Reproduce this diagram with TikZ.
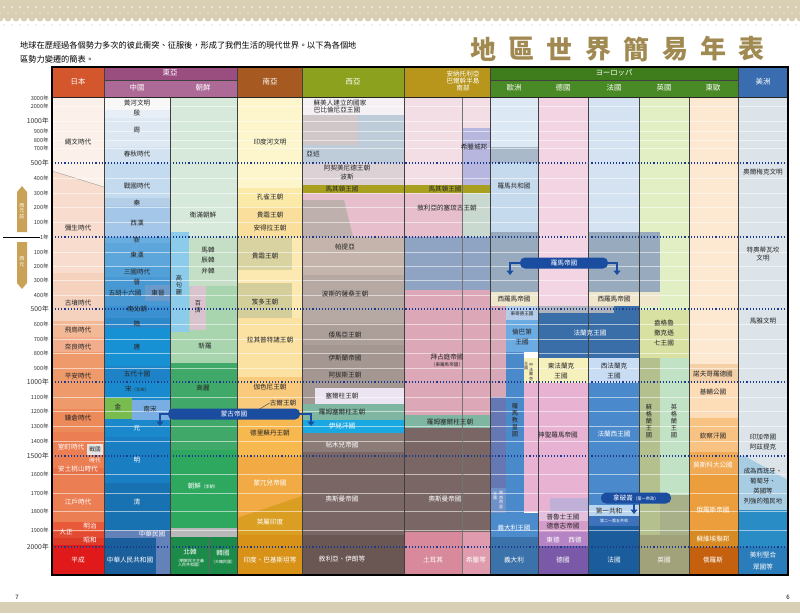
\documentclass[tikz,border=0pt]{standalone}
\usepackage{fontspec}
\setmainfont{Noto Sans CJK TC}
\usetikzlibrary{arrows.meta}

\definecolor{band}{HTML}{D9CFB4}
\definecolor{titlegold}{HTML}{A08A52}
\definecolor{arrgold}{HTML}{C9A257}
\definecolor{dotblue}{HTML}{1A3A90}
\definecolor{banblue}{HTML}{1A4CA0}
\definecolor{hjp}{HTML}{D4562C}
\definecolor{hea}{HTML}{9A4E80}
\definecolor{hea2}{HTML}{AE6A96}
\definecolor{hsa}{HTML}{A65A22}
\definecolor{hwa}{HTML}{8CA21E}
\definecolor{han}{HTML}{B8961C}
\definecolor{heu}{HTML}{3E7C1C}
\definecolor{heu2}{HTML}{4A8A26}
\definecolor{ham}{HTML}{3A6CB0}
% japan
\definecolor{jp0}{HTML}{FCF1EA}\definecolor{jp1}{HTML}{F8DDCE}\definecolor{jp2}{HTML}{F5D2BE}
\definecolor{jp3}{HTML}{F3B996}\definecolor{jp4}{HTML}{F2AE8C}\definecolor{jp5}{HTML}{EF9A6A}
\definecolor{jp6}{HTML}{EC8A5A}\definecolor{jp7}{HTML}{EB7E52}\definecolor{jp8}{HTML}{E87048}
\definecolor{jp9}{HTML}{E85A3A}\definecolor{jp10}{HTML}{E24A32}\definecolor{jp11}{HTML}{DE3A28}
\definecolor{jp12}{HTML}{E01A1A}
% china
\definecolor{cn0}{HTML}{F8F8F8}\definecolor{cn1}{HTML}{E8EEF6}\definecolor{cn2}{HTML}{DDE8F3}
\definecolor{cn3}{HTML}{D3E2F0}\definecolor{cn4}{HTML}{C4DAEE}\definecolor{cn5}{HTML}{B4CEE8}
\definecolor{cn6}{HTML}{A4C6E8}\definecolor{cn7}{HTML}{6AAEE0}\definecolor{cn8}{HTML}{5CA6DC}
\definecolor{cn9}{HTML}{52A0D8}\definecolor{cn10}{HTML}{4898D4}\definecolor{cn11}{HTML}{3A90D0}
\definecolor{cn12}{HTML}{2C88C8}\definecolor{cn13}{HTML}{1890D4}\definecolor{cn14}{HTML}{1E82C6}
\definecolor{cn15}{HTML}{1A8ACE}\definecolor{cn16}{HTML}{1C88CC}\definecolor{cn17}{HTML}{1A7EC2}
\definecolor{cn18}{HTML}{1872B2}\definecolor{cn19}{HTML}{6482BA}\definecolor{cn20}{HTML}{1A5E9C}
\definecolor{cnjin}{HTML}{78BC50}\definecolor{cnss}{HTML}{78AEE4}\definecolor{cndj}{HTML}{6A9ACA}
% korea
\definecolor{kr0}{HTML}{D6E9DA}\definecolor{kr1}{HTML}{C4DFC6}\definecolor{kr2}{HTML}{A8D4AE}
\definecolor{kr3}{HTML}{40A868}\definecolor{kr4}{HTML}{2EA85E}\definecolor{kr5}{HTML}{B8B8B8}
\definecolor{kr6}{HTML}{1C8A48}\definecolor{krgo}{HTML}{8CCBEA}\definecolor{krbj}{HTML}{D9C3CE}
% south asia
\definecolor{in0}{HTML}{FDF6CC}\definecolor{in1}{HTML}{FBE9A8}\definecolor{in2}{HTML}{F9DE9C}
\definecolor{in3}{HTML}{FCE9B2}\definecolor{in4}{HTML}{D8D3A0}\definecolor{in5}{HTML}{D3CE9A}
\definecolor{in6}{HTML}{FCE2A2}\definecolor{in7}{HTML}{F9CA7C}\definecolor{in8}{HTML}{F7B850}
\definecolor{in9}{HTML}{F1AA44}\definecolor{in10}{HTML}{DA9E22}\definecolor{in11}{HTML}{D89218}
% west asia, anatolia
\definecolor{wa0}{HTML}{F4F0F4}\definecolor{wa1}{HTML}{BDCCD8}\definecolor{wa2}{HTML}{D0C8C8}
\definecolor{wa3}{HTML}{DCD2D6}\definecolor{wamac}{HTML}{A8A01E}\definecolor{wa4}{HTML}{E6BECC}
\definecolor{wa5}{HTML}{BEB0AC}\definecolor{wa6}{HTML}{C4B4AC}\definecolor{wa7}{HTML}{B6A8A2}
\definecolor{wa8}{HTML}{AC9E98}\definecolor{wa9}{HTML}{A49690}\definecolor{waseljuk}{HTML}{ECE4F0}
\definecolor{warum}{HTML}{7EB6A2}\definecolor{wailk}{HTML}{1AA8E2}\definecolor{wa10}{HTML}{8C7C78}
\definecolor{wa11}{HTML}{7A6664}\definecolor{wa12}{HTML}{6A5652}
\definecolor{an0}{HTML}{F2DEE4}\definecolor{an1}{HTML}{B6B6DE}\definecolor{an3}{HTML}{C9D9D0}
\definecolor{an4}{HTML}{8EA4C2}\definecolor{an5}{HTML}{DCA8B8}\definecolor{an8}{HTML}{D88A9C}
\definecolor{an9}{HTML}{E09CAE}
% europe
\definecolor{eu0}{HTML}{DCE8F4}\definecolor{eu1}{HTML}{A9B9C9}\definecolor{eu2}{HTML}{C6DAEE}
\definecolor{de0}{HTML}{F2D4E2}\definecolor{fr0}{HTML}{D4E2F2}\definecolor{gb0}{HTML}{E2EEC4}
\definecolor{ee0}{HTML}{FDE8D2}\definecolor{am0}{HTML}{DCE4EA}
\definecolor{rome}{HTML}{98AABE}\definecolor{wrome}{HTML}{F0E6CC}\definecolor{byz}{HTML}{D8A8B8}
\definecolor{ostg}{HTML}{B4CCE8}\definecolor{lomb}{HTML}{6CAAE2}\definecolor{frgray}{HTML}{B0B4BC}
\definecolor{frank}{HTML}{3A6EA8}\definecolor{papal}{HTML}{4A8ACA}\definecolor{efrank}{HTML}{F6F0BC}
\definecolor{wfrank}{HTML}{C8DCF4}\definecolor{hre}{HTML}{E8B2D2}\definecolor{hregray}{HTML}{C0B0D8}
\definecolor{frking}{HTML}{4A8ACC}\definecolor{eustrip}{HTML}{6678B4}\definecolor{sicily}{HTML}{7090C8}
\definecolor{itking}{HTML}{4C8CCC}\definecolor{italy}{HTML}{3C72AA}\definecolor{prus}{HTML}{E2C0DE}
\definecolor{reich}{HTML}{D49CC8}\definecolor{ewde}{HTML}{B484C4}\definecolor{germany}{HTML}{7A5AA8}
\definecolor{rep1}{HTML}{B8D4EE}\definecolor{rep2}{HTML}{3E72BC}\definecolor{france}{HTML}{1A5C9C}
\definecolor{gb1}{HTML}{D8E0A2}\definecolor{gb2}{HTML}{B4C08E}\definecolor{gb3}{HTML}{C2E2C6}
\definecolor{gb4}{HTML}{A8B08A}\definecolor{gb5}{HTML}{A2A27A}
\definecolor{ee1}{HTML}{F4D0A8}\definecolor{ee2}{HTML}{FDDDB8}\definecolor{ee3}{HTML}{F8C282}
\definecolor{ee4}{HTML}{F0AA56}\definecolor{ee5}{HTML}{EC9E3C}\definecolor{ee6}{HTML}{D88A22}
\definecolor{ee7}{HTML}{C4600E}
\definecolor{am1}{HTML}{A8CCE2}\definecolor{am2}{HTML}{2A8CC4}\definecolor{am3}{HTML}{2A7CBA}

\tikzset{
  lbl/.style={font=\fontsize{6.6}{7}\selectfont, text=black!85, inner sep=0pt},
  wlbl/.style={lbl, text=white},
  small/.style={lbl, font=\fontsize{4.6}{5}\selectfont},
  vtxt/.style={lbl, align=center, font=\fontsize{6.2}{6.9}\selectfont},
  tiny/.style={lbl, align=center, font=\fontsize{4}{4.4}\selectfont},
  yr/.style={font=\fontsize{5.6}{6}\selectfont, text=black!80, anchor=east, inner sep=0pt},
  bigyr/.style={yr, font=\fontsize{6.8}{7}\selectfont},
  hdr/.style={font=\fontsize{7.4}{8}\selectfont, text=white, inner sep=0pt, align=center},
  gridline/.style={white, opacity=0.55, line width=0.7pt},
  dotline/.style={dotblue, dotted, line width=1.1pt},
  divider/.style={black!75, line width=0.6pt},
  banner/.style={fill=banblue, text=white, rounded corners=5pt, inner sep=0pt,
    minimum height=11pt, font=\fontsize{6.6}{7}\selectfont},
  banarr/.style={banblue, line width=2.2pt, -{Triangle[width=7pt,length=4.5pt]}},
  titlechar/.style={font=\fontsize{26}{26}\selectfont\bfseries, text=titlegold, inner sep=0pt}
}

\begin{document}
\begin{tikzpicture}[x=1pt, y=-1pt]
  \useasboundingbox (0,0) rectangle (800,613);
  % top and bottom bands
  \fill[band] (0,0) rectangle (800,18);
  \foreach \i in {0,...,100} \fill[band] (\i*8,18) circle (3.5pt);
  \foreach \i in {0,...,100} {
    \fill[white, opacity=0.7] (\i*8+4,7) circle (1pt);
    \fill[white, opacity=0.5] (\i*8,13) circle (0.8pt);
    \fill[band!70] (\i*8+4,25) circle (0.9pt);
  }
  \fill[band] (0,602) rectangle (800,613);
  \node[font=\fontsize{6}{6}\selectfont, inner sep=0pt] (pg7) at (17,597) {7};
  \node[font=\fontsize{6}{6}\selectfont, inner sep=0pt] (pg6) at (788,597) {6};

  % intro and title
  \node[anchor=west, inner sep=0pt, font=\fontsize{8.2}{9}\selectfont] (intro1) at (20,45)
    {地球在歷經過各個勢力多次的彼此衝突、征服後，形成了我們生活的現代世界。以下為各個地};
  \node[anchor=west, inner sep=0pt, font=\fontsize{8.2}{9}\selectfont] (intro2) at (20,59)
    {區勢力變遷的簡表。};
  \foreach \c [count=\i] in {地,區,世,界,簡,易,年,表}
    \node[titlechar] (title\i) at (483+\i*38.4-38.4,49) {\c};

  % japan
  \fill[jp0] (52,97) rectangle (104,273);
  \fill[jp1] (52,171) -- (104,187) -- (104,273) -- (52,273) -- cycle;
  \draw[black!40] (52,171) -- (104,187);
  \fill[jp2] (52,273) rectangle (104,321);
  \fill[jp3] (52,321) rectangle (104,337);
  \fill[jp4] (52,337) rectangle (104,352);
  \fill[jp5] (52,352) rectangle (104,409);
  \fill[jp6] (52,409) rectangle (104,432);
  \fill[jp7] (52,432) rectangle (104,468);
  \fill[jp8] (52,468) rectangle (104,474);
  \fill[jp7] (52,474) rectangle (104,522);
  \fill[jp9] (52,522) rectangle (104,532);
  \fill[jp10] (52,532) rectangle (104,538);
  \fill[jp11] (52,538) rectangle (104,545);
  \fill[jp12] (52,545) rectangle (104,575);
  \fill[white!90!black] (87,444) rectangle (103,455);

  % china
  \fill[cn0] (104,97) rectangle (170,110);
  \fill[cn1] (104,110) rectangle (170,118);
  \fill[cn2] (104,118) rectangle (170,147);
  \fill[cn3] (104,147) rectangle (170,163);
  \fill[cn4] (104,163) rectangle (170,198);
  \fill[cn5] (104,198) rectangle (170,206);
  \fill[cn6] (104,206) rectangle (170,237);
  \fill[cn7] (104,237) rectangle (170,243);
  \fill[cn8] (104,243) rectangle (170,266);
  \fill[cn9] (104,266) rectangle (170,277);
  \fill[cn10] (104,277) rectangle (170,306);
  \fill[cndj] (145,285) rectangle (170,301);
  \fill[cn11] (104,306) rectangle (170,318);
  \fill[cn12] (104,318) rectangle (170,328);
  \fill[cn13] (104,328) rectangle (170,366);
  \fill[cn14] (104,366) rectangle (170,381);
  \fill[cn15] (104,381) rectangle (170,398);
  \fill[cn16] (104,398) rectangle (170,437);
  \fill[cnjin] (104,398) rectangle (132,419);
  \fill[cnss] (132,400) rectangle (170,420);
  \fill[cn17] (104,437) rectangle (170,483);
  \fill[cn18] (104,483) rectangle (170,530);
  \fill[cn19] (104,530) rectangle (170,538);
  \fill[cn19] (156,538) rectangle (170,575);
  \fill[cn20] (104,538) rectangle (156,575);

  % korea
  \fill[kr0] (170,97) rectangle (237,237);
  \fill[kr1] (189,237) rectangle (237,286);
  \fill[kr2] (189,286) rectangle (237,363);
  \fill[kr2] (170,332) rectangle (189,363);
  \fill[krgo] (170,232) rectangle (189,332);
  \fill[krbj] (190,286) rectangle (206,330);
  \fill[kr3] (170,363) rectangle (237,450);
  \fill[kr4] (170,450) rectangle (237,528);
  \fill[kr5] (170,528) rectangle (237,537);
  \fill[kr6] (170,537) rectangle (237,575);

  % south asia
  \fill[in0] (237,97) rectangle (302,188);
  \fill[in1] (237,188) rectangle (302,207);
  \fill[in2] (237,207) rectangle (302,238);
  \fill[in3] (237,238) rectangle (302,318);
  \fill[in4] (237,238) rectangle (292,270);
  \fill[in5] (237,283) rectangle (292,318);
  \fill[in6] (237,318) rectangle (302,377);
  \fill[in7] (237,377) rectangle (302,410);
  \fill[in8] (237,410) rectangle (302,456);
  \fill[in9] (237,456) rectangle (302,535);
  \fill[in10] (237,518) -- (302,496) -- (302,535) -- (237,535) -- cycle;
  \fill[in11] (237,535) rectangle (302,575);

  % west asia
  \fill[wa0] (302,97) rectangle (404,115);
  \fill[wa1] (302,115) rectangle (404,163);
  \fill[wa2] (302,115) rectangle (358,145);
  \fill[wa3] (302,163) rectangle (404,186);
  \fill[wa4] (302,193) rectangle (404,237);
  \fill[wa5] (302,200) -- (344,200) -- (353,237) -- (302,237) -- cycle;
  \fill[wa6] (302,237) rectangle (404,275);
  \fill[wa7] (302,275) rectangle (404,323);
  \fill[wa8] (302,323) rectangle (404,345);
  \fill[wa9] (302,345) rectangle (404,404);
  \fill[waseljuk] (315,388) rectangle (404,404);
  \fill[warum] (302,404) rectangle (404,420);
  \fill[wailk] (302,420) rectangle (404,433);
  \fill[wa10] (302,433) rectangle (404,452);
  \fill[wa11] (302,452) rectangle (404,535);
  \fill[wa12] (302,535) rectangle (404,575);

  % anatolia
  \fill[an0] (404,97) rectangle (490,186);
  \fill[an1] (462,128) rectangle (490,186);
  \fill[wa4] (404,193) rectangle (462,237);
  \fill[an3] (462,193) rectangle (490,237);
  \fill[an4] (404,237) rectangle (490,290);
  \fill[an5] (404,290) rectangle (490,415);
  \fill[warum] (404,415) rectangle (490,428);
  \fill[wa11] (404,428) rectangle (490,532);
  \fill[an8] (404,532) rectangle (462,575);
  \fill[an9] (462,532) rectangle (490,575);
  \fill[wamac] (302,185) rectangle (490,193);

  % europe
  \fill[eu0] (490,97) rectangle (538,147);
  \fill[eu1] (490,147) rectangle (538,163);
  \fill[eu2] (490,163) rectangle (538,232);
  \fill[de0] (538,97) rectangle (588,313);
  \fill[fr0] (588,97) rectangle (639,232);
  \fill[gb0] (639,97) rectangle (689,310);
  \fill[ee0] (689,97) rectangle (738,364);
  \fill[am0] (738,97) rectangle (788,456);
  \fill[rome] (490,232) rectangle (538,292);
  \fill[rome] (588,232) rectangle (660,292);
  \fill[wrome] (490,292) rectangle (538,306);
  \fill[wrome] (588,292) rectangle (660,306);
  \fill[byz] (490,306) rectangle (506,397);
  \fill[ostg] (506,306) rectangle (538,320);
  \fill[lomb] (506,320) rectangle (538,352);
  \fill[frank] (538,306) rectangle (639,358);
  \fill[frgray] (538,306) rectangle (614,313);
  \fill[papal] (506,352) rectangle (524,513);
  \fill[efrank] (524,358) rectangle (588,383);
  \fill[wfrank] (588,358) rectangle (639,383);
  \fill[hre] (524,383) rectangle (588,512);
  \fill[hregray] (550,498) rectangle (588,512);
  \fill[frking] (588,383) rectangle (639,505);
  \fill[eustrip] (490,397) rectangle (506,513);
  \fill[sicily] (490,488) rectangle (506,513);
  \fill[itking] (490,513) rectangle (538,537);
  \fill[italy] (490,537) rectangle (538,575);
  \fill[prus] (538,512) rectangle (588,521);
  \fill[reich] (538,521) rectangle (588,532);
  \fill[ewde] (538,532) rectangle (588,546);
  \fill[germany] (538,546) rectangle (588,575);
  \fill[rep1] (588,505) rectangle (639,516);
  \fill[rep2] (588,516) rectangle (639,526);
  \fill[france] (588,526) rectangle (639,575);
  \fill[gb1] (639,310) rectangle (689,358);
  \fill[gb2] (639,358) rectangle (660,535);
  \fill[gb3] (660,358) rectangle (689,495);
  \fill[gb4] (660,495) rectangle (689,535);
  \fill[gb5] (639,535) rectangle (689,575);
  \fill[ee1] (689,364) rectangle (738,383);
  \fill[ee2] (689,383) rectangle (738,418);
  \fill[ee3] (689,418) rectangle (738,452);
  \fill[ee4] (689,452) rectangle (738,475);
  \fill[ee5] (689,475) rectangle (738,530);
  \fill[ee6] (689,530) rectangle (738,547);
  \fill[ee7] (689,547) rectangle (738,575);
  \fill[am1] (738,456) rectangle (788,510);
  \fill[am0] (745,456) -- (788,456) -- (788,480) -- cycle;
  \fill[am2] (738,510) rectangle (788,547);
  \fill[am3] (738,547) rectangle (788,575);

  % century lines and era lines
  \foreach \y in {106,121,131,140,148,178,193,207,222,252,266,280,295,324,339,353,368,
                  397,411,426,441,474,493,511,530}
    \draw[gridline] (52,\y) -- (788,\y);
  \foreach \y in {163,237,309,382,456,547}
    \draw[dotline] (52,\y) -- (788,\y);

  % column dividers
  \foreach \x in {104,170,237,302,404,490,538,588,639,689,738}
    \draw[divider] (\x,80) -- (\x,575);
  \draw[black!55, line width=0.4pt] (462,97) -- (462,575);
  \draw[black!60] (209,537) -- (209,575);

  % year axis
  \foreach \y/\t in {98/3000年,106/2000年,131/900年,140/800年,148/700年,178/400年,193/300年,
                     207/200年,222/100年,252/100年,266/200年,280/300年,295/400年,324/600年,
                     339/700年,353/800年,368/900年,397/1100年,411/1200年,426/1300年,441/1400年,
                     474/1600年,493/1700年,511/1800年,530/1900年}
    \node[yr] (yr\y) at (49,\y) {\t};
  \foreach \y/\t in {121/1000年,163/500年,309/500年,382/1000年,456/1500年,547/2000年}
    \node[bigyr] (yr\y) at (49,\y) {\t};
  \node[yr] (yr237) at (49,237) {1年};
  \coordinate (zeroL) at (3,237);
  \draw[black, line width=0.8pt] (zeroL) -- (yr237.west);
  \fill[arrgold] (17,232) -- (17,192) -- (22,186) -- (27,192) -- (27,232) -- cycle;
  \fill[arrgold] (17,242) -- (27,242) -- (27,283) -- (22,289) -- (17,283) -- cycle;
  \node[tiny, text=white, font=\fontsize{5}{5.6}\selectfont] (bce) at (22,211) {西\\元\\前};
  \node[tiny, text=white, font=\fontsize{5}{5.6}\selectfont] (ce) at (22,262) {西\\元};

  % labels: japan
  \node[lbl] (jp1) at (78,142) {繩文時代};
  \node[lbl] (jp2) at (78,228) {彌生時代};
  \node[lbl] (jp3) at (78,303) {古墳時代};
  \node[lbl] (jp4) at (78,330) {飛鳥時代};
  \node[lbl] (jp5) at (78,347) {奈良時代};
  \node[lbl] (jp6) at (78,376) {平安時代};
  \node[lbl] (jp7) at (78,418) {鎌倉時代};
  \node[wlbl] (jp8) at (71,447) {室町時代};
  \node[small, font=\fontsize{5.6}{6}\selectfont] (jp9) at (95,449) {戰國};
  \node[wlbl, font=\fontsize{5.6}{6}\selectfont] (jp10) at (95,460) {時代};
  \node[wlbl] (jp11) at (78,469) {安土桃山時代};
  \node[wlbl] (jp12) at (78,502) {江戶時代};
  \node[wlbl] (jp13) at (90,526) {明治};
  \node[wlbl] (jp14) at (66,532) {大正};
  \node[wlbl] (jp15) at (90,540) {昭和};
  \node[wlbl] (jp16) at (78,560) {平成};

  % labels: china
  \node[lbl] (cn1) at (137,103) {黃河文明};
  \node[lbl] (cn2) at (137,113) {殷};
  \node[lbl] (cn3) at (137,130) {周};
  \node[lbl] (cn4) at (137,154) {春秋時代};
  \node[lbl] (cn5) at (137,186) {戰國時代};
  \node[lbl] (cn6) at (137,203) {秦};
  \node[lbl] (cn7) at (137,223) {西漢};
  \node[lbl] (cn8) at (137,240) {新};
  \node[lbl] (cn9) at (137,255) {東漢};
  \node[lbl] (cn10) at (137,272) {三國時代};
  \node[lbl] (cn11) at (137,282) {晉};
  \node[lbl] (cn12) at (125,293) {五胡十六國};
  \node[lbl] (cn13) at (158,293) {東晉};
  \node[lbl] (cn14) at (137,309) {南北朝};
  \node[lbl] (cn15) at (137,324) {隋};
  \node[lbl] (cn16) at (137,347) {唐};
  \node[lbl] (cn17) at (137,374) {五代十國};
  \node[lbl] (cn18) at (137,389) {宋\scalebox{0.65}{（北宋）}};
  \node[lbl] (cn19) at (118,407) {金};
  \node[lbl] (cn20) at (150,409) {南宋};
  \node[wlbl] (cn21) at (137,428) {元};
  \node[wlbl] (cn22) at (137,460) {明};
  \node[wlbl] (cn23) at (137,502) {清};
  \node[wlbl] (cn24) at (152,534) {中華民國};
  \node[wlbl] (cn25) at (130,560) {中華人民共和國};

  % labels: korea
  \node[lbl] (kr1) at (203,215) {衛滿朝鮮};
  \node[vtxt] (kr2) at (179,285) {高\\句\\麗};
  \node[lbl] (kr3) at (208,250) {馬韓};
  \node[lbl] (kr4) at (208,260) {辰韓};
  \node[lbl] (kr5) at (208,271) {弁韓};
  \node[vtxt] (kr6) at (198,307) {百\\濟};
  \node[lbl] (kr7) at (205,346) {新羅};
  \node[lbl] (kr8) at (203,388) {高麗};
  \node[wlbl] (kr9) at (203,486) {朝鮮\scalebox{0.65}{（李朝）}};
  \node[wlbl] (kr10) at (190,552) {北韓};
  \node[tiny, text=white] (kr11) at (190,563) {（朝鮮民主主義\\人民共和國）};
  \node[wlbl] (kr12) at (223,553) {韓國};
  \node[tiny, text=white] (kr13) at (223,562) {（大韓民國）};

  % labels: south asia
  \node[lbl] (in1) at (270,142) {印度河文明};
  \node[lbl] (in2) at (270,197) {孔雀王朝};
  \node[lbl] (in3) at (270,215) {貴霜王朝};
  \node[lbl] (in4) at (270,228) {安得拉王朝};
  \node[lbl] (in5) at (265,256) {貴霜王朝};
  \node[lbl] (in6) at (265,302) {笈多王朝};
  \node[lbl] (in7) at (270,340) {拉其普特諸王朝};
  \node[lbl] (in8) at (270,387) {伽色尼王朝};
  \node[lbl] (in9) at (283,403) {古爾王朝};
  \coordinate (ghor) at (258,410);
  \draw[black!70, line width=0.5pt] (ghor) -- (in9.west);
  \node[lbl] (in10) at (270,433) {德里蘇丹王朝};
  \node[wlbl] (in11) at (270,483) {蒙兀兒帝國};
  \node[wlbl] (in12) at (270,522) {英屬印度};
  \node[wlbl] (in13) at (270,560) {印度、巴基斯坦等};

  % labels: west asia
  \node[lbl] (wa1) at (340,103) {蘇美人建立的國家};
  \node[lbl] (wa2) at (337,110) {巴比倫尼亞王國};
  \node[lbl] (wa3) at (313,154) {亞述};
  \node[lbl] (wa4) at (347,168) {阿契美尼德王朝};
  \node[lbl] (wa5) at (347,177) {波斯};
  \node[lbl] (wa6) at (342,189) {馬其頓王國};
  \node[lbl] (wa7) at (345,247) {帕提亞};
  \node[lbl] (wa8) at (345,294) {波斯的薩桑王朝};
  \node[lbl] (wa9) at (345,335) {倭馬亞王朝};
  \node[lbl] (wa10) at (345,358) {伊斯蘭帝國};
  \node[lbl] (wa11) at (345,375) {阿拔斯王朝};
  \node[lbl] (wa12) at (342,396) {塞爾柱王朝};
  \node[lbl] (wa13) at (342,412) {羅姆塞爾柱王朝};
  \node[wlbl] (wa14) at (342,426) {伊兒汗國};
  \node[wlbl] (wa15) at (342,445) {帖木兒帝國};
  \node[wlbl] (wa16) at (342,499) {奧斯曼帝國};
  \node[wlbl] (wa17) at (342,559) {敘利亞、伊朗等};

  % labels: anatolia
  \node[lbl] (an1) at (474,147) {希臘城邦};
  \node[lbl] (an2) at (445,189) {馬其頓王國};
  \node[lbl] (an3) at (447,208) {敘利亞的塞琉古王朝};
  \node[lbl] (an4) at (447,357) {拜占庭帝國};
  \node[small] (an5) at (447,365) {（東羅馬帝國）};
  \node[lbl] (an6) at (450,422) {羅姆塞爾柱王朝};
  \node[wlbl] (an7) at (445,499) {奧斯曼帝國};
  \node[wlbl] (an8) at (433,560) {土耳其};
  \node[wlbl] (an9) at (476,560) {希臘等};

  % labels: europe
  \node[lbl] (eu1) at (514,186) {羅馬共和國};
  \node[lbl] (eu2) at (514,299) {西羅馬帝國};
  \node[small] (eu3) at (522,314) {東哥德王國};
  \node[lbl] (eu4) at (522,332) {倫巴第};
  \node[lbl] (eu5) at (522,342) {王國};
  \node[tiny] (eu6) at (531,372) {中\\法\\蘭\\克};
  \node[tiny] (eu7) at (526,366) {王\\國};
  \node[vtxt] (eu8) at (515,420) {羅\\馬\\教\\皇\\國};
  \node[tiny, text=white] (eu9) at (501,500) {兩\\西\\西\\里};
  \node[tiny, text=white] (eu10) at (495,496) {王\\國};
  \node[wlbl] (eu11) at (514,528) {義大利王國};
  \node[wlbl] (eu12) at (514,560) {義大利};
  \node[lbl] (de1) at (561,366) {東法蘭克};
  \node[lbl] (de2) at (561,376) {王國};
  \node[lbl] (de3) at (558,435) {神聖羅馬帝國};
  \node[lbl] (de4) at (563,517) {普魯士王國};
  \node[lbl] (de5) at (563,526) {德意志帝國};
  \node[wlbl] (de6) at (553,540) {東德};
  \node[wlbl] (de7) at (575,540) {西德};
  \node[wlbl] (de8) at (563,560) {德國};
  \node[lbl] (fr1) at (614,299) {西羅馬帝國};
  \node[wlbl] (fr2) at (590,333) {法蘭克王國};
  \node[lbl] (fr3) at (614,366) {西法蘭克};
  \node[lbl] (fr4) at (614,376) {王國};
  \node[wlbl] (fr5) at (614,434) {法蘭西王國};
  \node[lbl] (fr6) at (609,511) {第一共和};
  \node[tiny, text=white] (fr7) at (614,521) {第二～第五共和};
  \node[wlbl] (fr8) at (614,560) {法國};
  \node[lbl] (gb1) at (664,323) {盎格魯};
  \node[lbl] (gb2) at (664,333) {撒克遜};
  \node[lbl] (gb3) at (664,343) {七王國};
  \node[vtxt] (gb4) at (649,421) {蘇\\格\\蘭\\王\\國};
  \node[vtxt] (gb5) at (674,421) {英\\格\\蘭\\王\\國};
  \node[wlbl] (gb6) at (664,560) {英國};
  \node[lbl] (ee1) at (713,374) {諾夫哥羅德國};
  \node[lbl] (ee2) at (713,392) {基輔公國};
  \node[lbl] (ee3) at (713,436) {欽察汗國};
  \node[wlbl] (ee4) at (713,465) {莫斯科大公國};
  \node[wlbl] (ee5) at (713,510) {俄羅斯帝國};
  \node[wlbl] (ee6) at (713,539) {蘇維埃聯邦};
  \node[wlbl] (ee7) at (713,560) {俄羅斯};

  % labels: americas
  \node[lbl] (am1) at (763,172) {奧爾梅克文明};
  \node[lbl] (am2) at (763,250) {特奧蒂瓦坎};
  \node[lbl] (am3) at (763,258) {文明};
  \node[lbl] (am4) at (763,321) {馬雅文明};
  \node[lbl] (am5) at (763,437) {印加帝國};
  \node[lbl] (am6) at (763,447) {阿茲提克};
  \node[lbl, align=center, font=\fontsize{6.4}{9.8}\selectfont] (am7) at (763,486)
    {成為西班牙、\\葡萄牙、\\英國等\\列強的殖民地};
  \node[wlbl] (am8) at (763,555) {美利堅合};
  \node[wlbl] (am9) at (763,567) {眾國等};

  % banners
  \node[banner, minimum width=132pt] (mongol) at (234,414) {蒙古帝國};
  \draw[banarr] (mongol.west) -| (160,426);
  \draw[banarr] (mongol.east) -| (311,426);
  \node[banner, minimum width=88pt] (romeemp) at (564,263) {羅馬帝國};
  \draw[banarr] (romeemp.west) -| (510,275);
  \draw[banarr] (romeemp.east) -| (617,275);
  \node[banner, minimum width=70pt] (napoleon) at (636,498) {拿破崙\scalebox{0.65}{（第一帝政）}};
  \coordinate (nap) at (634,514);
  \draw[banarr, line width=1.6pt] (napoleon.south -| nap) -- (nap);

  % header
  \fill[hjp] (52,67) rectangle (104,97);
  \fill[hea] (104,67) rectangle (237,80);
  \fill[hea2] (104,80) rectangle (237,97);
  \fill[hsa] (237,67) rectangle (302,97);
  \fill[hwa] (302,67) rectangle (404,97);
  \fill[han] (404,67) rectangle (490,97);
  \fill[heu] (490,67) rectangle (738,80);
  \fill[heu2] (490,80) rectangle (738,97);
  \fill[ham] (738,67) rectangle (788,97);
  \draw[divider] (104,80) -- (237,80);
  \draw[divider] (490,80) -- (738,80);
  \foreach \x in {104,237,302,404,490,738}
    \draw[divider] (\x,67) -- (\x,97);
  \draw[black!85, line width=0.8pt] (52,97) -- (788,97);
  \node[hdr] (hjapan) at (78,82) {日本};
  \node[hdr] (heast) at (170,73) {東亞};
  \node[hdr] (hchina) at (137,88) {中國};
  \node[hdr] (hkorea) at (203,88) {朝鮮};
  \node[hdr] (hsouth) at (270,82) {南亞};
  \node[hdr] (hwest) at (353,82) {西亞};
  \node[hdr, font=\fontsize{6.6}{7.4}\selectfont] (hanat) at (463,81) {安納托利亞\\巴爾幹半島\\南部};
  \node[hdr] (heurope) at (614,73) {ヨーロッパ};
  \node[hdr] (heu1) at (514,88) {歐洲};
  \node[hdr] (heu2) at (563,88) {德國};
  \node[hdr] (heu3) at (614,88) {法國};
  \node[hdr] (heu4) at (664,88) {英國};
  \node[hdr] (heu5) at (713,88) {東歐};
  \node[hdr] (hamer) at (763,82) {美洲};

  \draw[black, line width=1.2pt] (52,67) rectangle (788,575);
\end{tikzpicture}
\end{document}
